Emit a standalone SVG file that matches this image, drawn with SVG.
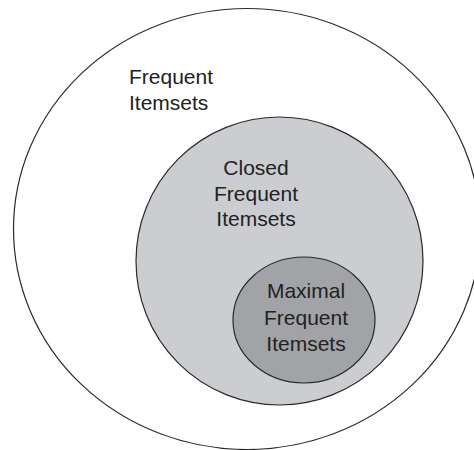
<svg xmlns="http://www.w3.org/2000/svg" width="474" height="450" viewBox="0 0 474 450">
<style>
.set{stroke:#2a2a2a;stroke-width:1.2}
.lbl{font-family:"Liberation Sans",Arial,sans-serif;font-size:21px;fill:#222}
.c{text-anchor:middle}
</style>
<rect width="474" height="450" fill="#ffffff"/>
<g id="frequent">
<ellipse class="set" cx="247" cy="229" rx="233.5" ry="220.5" fill="#ffffff"/>
<text class="lbl" x="129" y="84">Frequent</text>
<text class="lbl" x="129" y="110">Itemsets</text>
</g>
<g id="closed">
<ellipse class="set" cx="279.5" cy="261" rx="143.5" ry="144" fill="#cbcdd0"/>
<text class="lbl c" x="256" y="175">Closed</text>
<text class="lbl c" x="256" y="201">Frequent</text>
<text class="lbl c" x="256" y="226">Itemsets</text>
</g>
<g id="maximal">
<ellipse class="set" cx="304" cy="320" rx="71" ry="63" fill="#a2a3a6"/>
<text class="lbl c" x="306" y="298">Maximal</text>
<text class="lbl c" x="306" y="325">Frequent</text>
<text class="lbl c" x="306" y="351">Itemsets</text>
</g>
<g id="connectors"/>
</svg>
